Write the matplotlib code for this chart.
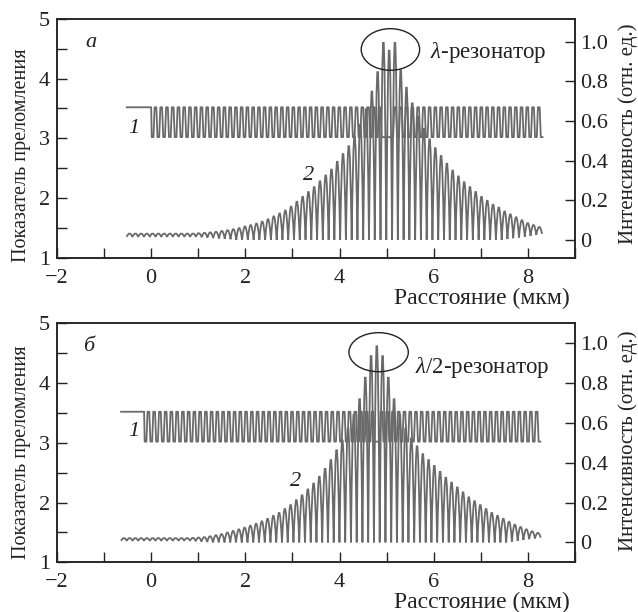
import matplotlib
matplotlib.use("Agg")
import matplotlib.pyplot as plt
from matplotlib.path import Path
from matplotlib.patches import PathPatch, Ellipse
from matplotlib.ticker import MultipleLocator
import numpy as np

plt.rcParams["font.family"] = ["Liberation Serif", "DejaVu Serif"]
plt.rcParams["mathtext.fontset"] = "custom"
plt.rcParams["mathtext.rm"] = "Liberation Serif"
plt.rcParams["mathtext.it"] = "Liberation Serif:italic"

GREY, INK = "#6a6a6a", "#222222"

# --- data ------------------------------------------------------------------
# refractive index structure (curve 1): GaAs / AlAs mirror with a cavity
n_high, n_low = 3.52, 3.02
dbr_period = 0.122                      # um
substrate_from = [-0.52, -0.64]         # flat n_high part starts here
dbr_start = [0.0, -0.15]
pairs_left = [40, 40]
cavity_len = [0.27, 0.13]
pairs_right = [26, 28]

# intensity (curve 2): one peak per fringe, troughs at the fringe edges
fringe_span_a = (-0.52, 8.30)
peaks_a = [0.032] * 12 + [
    0.034, 0.036, 0.038, 0.041, 0.045, 0.049, 0.054, 0.060, 0.068, 0.075,
    0.083, 0.093, 0.105, 0.12, 0.135, 0.15, 0.17, 0.195, 0.22, 0.245,
    0.27, 0.30, 0.33, 0.36, 0.40, 0.44, 0.48, 0.53, 0.59, 0.67,
    0.76, 0.86, 1.01, 0.97, 1.01, 0.87, 0.78, 0.70, 0.63, 0.57,
    0.515, 0.47, 0.43, 0.39, 0.355, 0.325, 0.295, 0.27, 0.245, 0.22,
    0.20, 0.18, 0.165, 0.145, 0.13, 0.115, 0.10, 0.085, 0.075, 0.065]
troughs_a = [0.015] * 13 + [0.013, 0.011, 0.009, 0.007, 0.005, 0.003] + \
    [0.0] * 47 + [0.004, 0.008, 0.012, 0.016, 0.02, 0.025, 0.03]

fringe_span_b = (-0.64, 8.27)
peaks_b = [0.022] * 12 + [
    0.023, 0.025, 0.027, 0.031, 0.036, 0.042, 0.05, 0.058, 0.066, 0.075,
    0.085, 0.095, 0.107, 0.12, 0.135, 0.15, 0.17, 0.19, 0.215, 0.24,
    0.27, 0.30, 0.335, 0.375, 0.42, 0.47, 0.52, 0.58, 0.65, 0.73,
    0.84, 0.95, 1.0, 0.95, 0.84, 0.73, 0.65, 0.58, 0.53, 0.49,
    0.45, 0.42, 0.39, 0.36, 0.33, 0.305, 0.28, 0.255, 0.23, 0.21,
    0.19, 0.17, 0.15, 0.135, 0.12, 0.105, 0.09, 0.078, 0.066, 0.056, 0.048]
troughs_b = [0.008] * 13 + [0.006, 0.004, 0.002] + [0.0] * 52 + \
    [0.004, 0.008, 0.012, 0.016, 0.02, 0.024]

panel_tags = ["а", "б"]
resonator_labels = [r"$\lambda$-резонатор", r"$\lambda$/2-резонатор"]
# ellipse around the central peaks: centre x, centre y (right axis), w, h
ellipse_a = (5.08, 0.961, 1.24, 0.21)
ellipse_b = (4.83, 0.955, 1.26, 0.196)
right_ylim = [(-0.09, 1.115), (-0.10, 1.10)]


def index_line(x_sub, x0, nl, cav, nr):
    half = dbr_period / 2
    layers = []
    x = x0
    for _ in range(nl):
        layers += [(x, x + half, n_low), (x + half, x + 2 * half, n_high)]
        x += 2 * half
    layers.append((x, x + cav, n_low))
    x += cav
    for _ in range(nr):
        layers += [(x, x + half, n_high), (x + half, x + 2 * half, n_low)]
        x += 2 * half
    t = 0.012
    xs, ys = [x_sub, x0], [n_high, n_high]
    for a, b, n in layers:
        xs += [a + t, b - t]
        ys += [n, n]
    return xs, ys


def fringe_path(span, peaks, troughs):
    edges = np.linspace(span[0], span[1], len(peaks) + 1)
    verts = [(edges[0], troughs[0])]
    codes = [Path.MOVETO]
    for i, p in enumerate(peaks):
        xm = 0.5 * (edges[i] + edges[i + 1])
        ctrl = 2 * p - 0.5 * (troughs[i] + troughs[i + 1])
        verts += [(xm, ctrl), (edges[i + 1], troughs[i + 1])]
        codes += [Path.CURVE3, Path.CURVE3]
    return Path(verts, codes)


fig = plt.figure(figsize=(6.38, 6.12), dpi=100)
boxes = [[0.0893, 0.579, 0.812, 0.390], [0.0893, 0.0812, 0.812, 0.3905]]
spans = [fringe_span_a, fringe_span_b]
peaks = [peaks_a, peaks_b]
troughs = [troughs_a, troughs_b]
ellipses = [ellipse_a, ellipse_b]
label1 = [(-0.36, 3.17), (-0.38, 3.19)]
label2 = [(3.35, 2.38), (3.06, 2.35)]
lab_y = [0.43, 0.46]
rlab_y = [0.52, 0.51]
text_pos = [(5.91, 0.946), (5.6, 0.88)]
FS = 16

for i in range(2):
    ax = fig.add_axes(boxes[i])
    ax2 = ax.twinx()
    ax.set_zorder(ax2.get_zorder() + 1)
    ax.patch.set_visible(False)

    xs, ys = index_line(substrate_from[i], dbr_start[i], pairs_left[i],
                        cavity_len[i], pairs_right[i])
    ax.plot(xs, ys, color=GREY, lw=1.3, solid_joinstyle="round")
    ax2.add_patch(PathPatch(fringe_path(spans[i], peaks[i], troughs[i]),
                            fill=False, edgecolor=GREY, lw=1.3))
    cx, cy, w, h = ellipses[i]
    ax2.add_patch(Ellipse((cx, cy), w, h, fill=False, edgecolor=INK, lw=1.0))
    ax2.text(*text_pos[i], resonator_labels[i], fontsize=16.5, color=INK,
             va="center", ha="left")

    ax.set_xlim(-2, 9)
    ax.set_ylim(1, 5)
    ax2.set_ylim(*right_ylim[i])
    ax.xaxis.set_major_locator(MultipleLocator(2))
    ax.xaxis.set_minor_locator(MultipleLocator(1))
    ax.yaxis.set_major_locator(MultipleLocator(1))
    ax.yaxis.set_minor_locator(MultipleLocator(0.5))
    ax2.set_yticks([0, 0.2, 0.4, 0.6, 0.8, 1.0])
    ax2.set_yticklabels(["0", "0.2", "0.4", "0.6", "0.8", "1.0"])
    for a in (ax, ax2):
        a.tick_params(which="both", direction="in", length=7, width=1.0,
                      labelsize=FS, colors=INK, pad=5)
        for s in a.spines.values():
            s.set_linewidth(1.1)
            s.set_color(INK)
    ax.tick_params(top=False, right=False)
    ax.tick_params(axis="x", which="both", pad=8)
    ax2.tick_params(axis="y", which="both", pad=4)

    ax.set_ylabel("Показатель преломления", fontsize=14.5, color=INK)
    ax.yaxis.set_label_coords(-0.05, lab_y[i])
    ax2.set_ylabel("Интенсивность (отн. ед.)", fontsize=15, color=INK)
    ax2.yaxis.set_label_coords(1.083, rlab_y[i])
    ax.set_xlabel("Расстояние (мкм)", fontsize=17, color=INK)
    ax.xaxis.set_label_coords(0.82, -0.125)

    ax.text(-1.28 if i == 0 else -1.32, 4.61, panel_tags[i], fontsize=FS,
            style="italic", color=INK, ha="center", va="center")
    ax.text(*label1[i], "1", fontsize=FS, style="italic", color=INK,
            ha="center", va="center")
    ax.text(*label2[i], "2", fontsize=FS, style="italic", color=INK,
            ha="center", va="center")

fig.savefig("out.png", dpi=100, facecolor="white")
